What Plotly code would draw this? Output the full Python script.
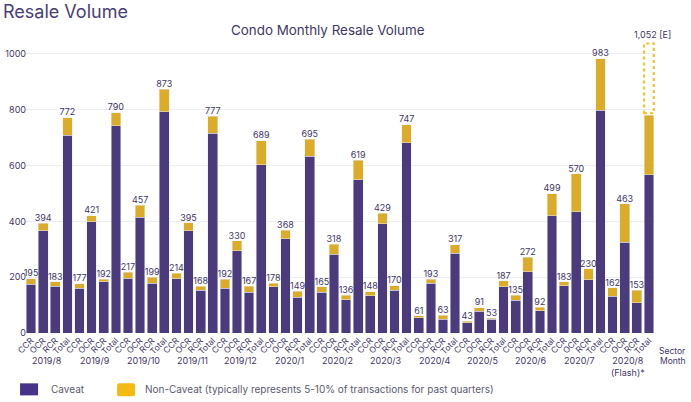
import plotly.graph_objects as go

W, H = 691, 402
L, R, T, B = 24.95, 36.25, 26, 69.3
FONT = "Inter"
INK = "#3f3768"
PURPLE = "#4b3b7c"
GOLD = "#dcab27"

months = ["2019/8", "2019/9", "2019/10", "2019/11", "2019/12", "2020/1", "2020/2",
          "2020/3", "2020/4", "2020/5", "2020/6", "2020/7", "2020/8<br>(Flash)*"]
sectors = ["CCR", "OCR", "RCR", "Total"]

caveat = [175, 366, 167, 709,
          160, 398, 183, 742,
          197, 414, 178, 792,
          194, 366, 153, 715,
          161, 294, 146, 602,
          165, 337, 129, 634,
          146, 282, 120, 550,
          134, 391, 153, 682,
          55, 179, 50, 286,
          37, 78, 50, 165,
          118, 219, 79, 420,
          169, 434, 190, 798,
          132, 325, 108, 567]
totals = [195, 394, 183, 772,
          177, 421, 192, 790,
          217, 457, 199, 873,
          214, 395, 168, 777,
          192, 330, 167, 689,
          178, 368, 149, 695,
          165, 318, 136, 619,
          148, 429, 170, 747,
          61, 193, 63, 317,
          43, 91, 53, 187,
          135, 272, 92, 499,
          183, 570, 230, 983,
          162, 463, 153, 781]
estimate_total = 1037
estimate_label = "1,052 [E]"

yticks = [0, 200, 400, 600, 800, 1000]

x = list(range(len(totals)))
tick_text = [sectors[i % 4] for i in x]
non_caveat = [t - c for t, c in zip(totals, caveat)]
labels = [str(t) for t in totals[:-1]] + [""]


# pixel helpers for everything that sits outside the plot area
def px(v):
    return (v - L) / (W - L - R)


def py(v):
    return 1 - (v - T) / (H - T - B)


fig = go.Figure()

fig.add_trace(go.Bar(x=x, y=caveat, name="Caveat", marker_color=PURPLE))
fig.add_trace(go.Bar(x=x, y=non_caveat, name="Non-Caveat", marker_color=GOLD))

# Total labels
fig.add_trace(go.Scatter(
    x=x, y=totals, mode="text", text=labels, textposition="top center",
    textfont=dict(size=9, color=INK, family=FONT), cliponaxis=False, showlegend=False
))
fig.add_annotation(x=x[-1], y=estimate_total, xref="x", yref="y", text=estimate_label, showarrow=False,
                   xshift=4, yshift=2, yanchor="bottom", font=dict(size=9, color=INK, family=FONT))

# Dashed outline for the estimate
fig.add_shape(
    type="rect", xref="x", yref="y",
    x0=x[-1] - 0.4, x1=x[-1] + 0.4, y0=totals[-1] + 6, y1=estimate_total,
    line=dict(color="#eebf1f", width=2, dash="dot"), fillcolor="rgba(0,0,0,0)"
)

# Legend, drawn by hand
fig.add_shape(type="rect", xref="paper", yref="paper", x0=px(20), x1=px(38), y0=py(395), y1=py(383),
              fillcolor="#47338a", line_width=0)
fig.add_shape(type="path", xref="paper", yref="paper", line_width=0, fillcolor="#f5b914",
              path=f"M {px(119)} {py(383)} L {px(133)} {py(383)} Q {px(135)} {py(383)} {px(135)} {py(385)} "
                   f"L {px(135)} {py(394)} Q {px(135)} {py(396)} {px(133)} {py(396)} "
                   f"L {px(119)} {py(396)} Q {px(117)} {py(396)} {px(117)} {py(394)} "
                   f"L {px(117)} {py(385)} Q {px(117)} {py(383)} {px(119)} {py(383)} Z")


def note(text, xp, yp, size=9.5, anchor="center", color=INK):
    fig.add_annotation(text=text, xref="paper", yref="paper", x=px(xp), y=py(yp), showarrow=False,
                       xanchor=anchor, yanchor="middle", align="center",
                       font=dict(size=size, color=color, family=FONT))


note("Resale Volume", 1, 12, size=18, anchor="left", color="#4a3d78")
note("Condo Monthly Resale Volume", 328, 29.5, size=13.4, color=INK)
note("Caveat", 49, 389, size=10, anchor="left", color="#5b5b6e")
note("Non-Caveat (typically represents 5-10% of transactions for past quarters)", 143, 389,
     size=10, anchor="left", color="#5b5b6e")
note("Sector", 672, 351, size=8.5)
note("Month", 673, 361, size=8.5)

for i, m in enumerate(months):
    fig.add_annotation(text=m, xref="x", yref="paper", x=i * 4 + 1.3, y=py(353), yanchor="top",
                       showarrow=False, font=dict(size=9, color=INK, family=FONT))

fig.update_layout(
    width=W, height=H, barmode="stack", bargap=0.2, showlegend=False,
    margin=dict(l=L, r=R, t=T, b=B),
    paper_bgcolor="white", plot_bgcolor="white",
    font=dict(family=FONT, color=INK),
    xaxis=dict(tickmode="array", tickvals=x, ticktext=tick_text, tickangle=-45, automargin=False,
               range=[-0.5, 51.5], tickfont=dict(size=8.5, color=INK), ticks="", showgrid=False,
               zeroline=False),
    yaxis=dict(tickmode="array", tickvals=yticks, range=[0, 1100], tickfont=dict(size=9, color=INK),
               ticklabelstandoff=-2, automargin=False, gridcolor="#eeedf3", gridwidth=1, zeroline=False),
)

fig.write_html("out.html", config=dict(displayModeBar=False),
               post_script="document.body.style.margin='0';")
